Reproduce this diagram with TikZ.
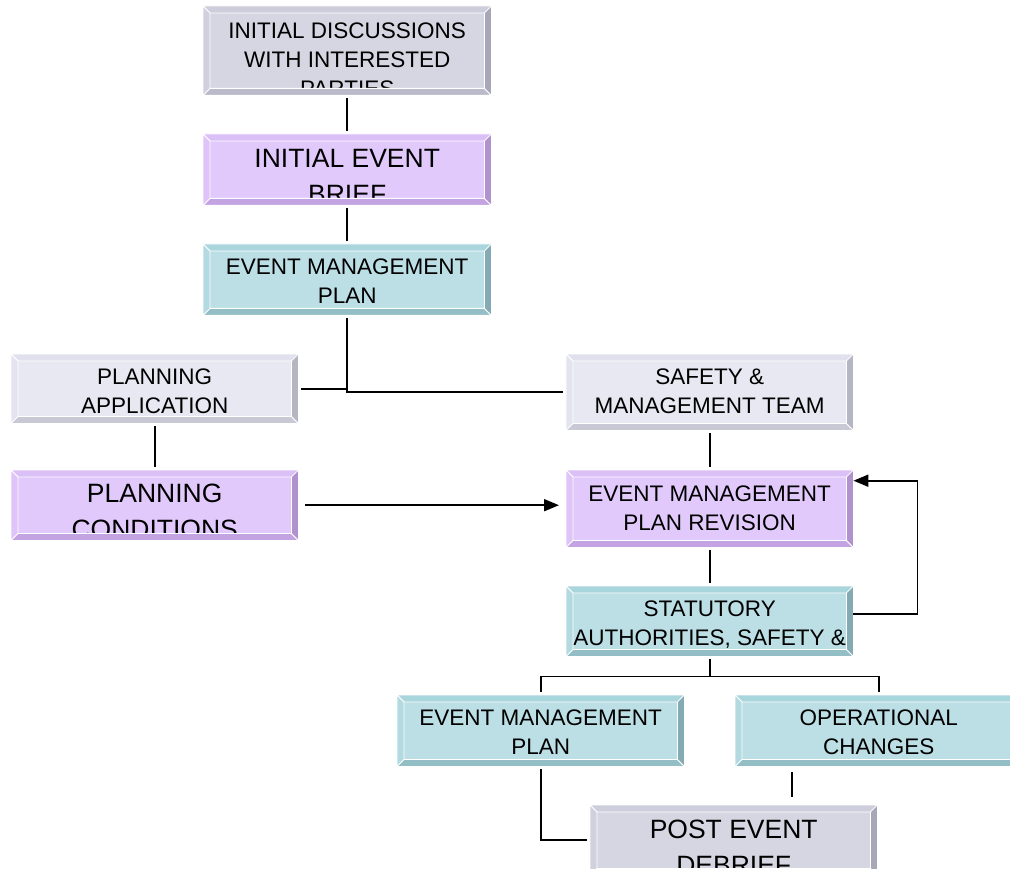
\documentclass[tikz,border=0pt]{standalone}
\usepackage{fontspec}
\setmainfont{Liberation Sans}
\usetikzlibrary{arrows.meta,calc}

\definecolor{ashface}{HTML}{D6D6E2}
\definecolor{ashtop}{HTML}{CDCDDB}
\definecolor{ashleft}{HTML}{D0D0DE}
\definecolor{ashright}{HTML}{A7A7B7}
\definecolor{ashbottom}{HTML}{BABACA}
\definecolor{mistface}{HTML}{E8E8F3}
\definecolor{misttop}{HTML}{E1E1ED}
\definecolor{mistleft}{HTML}{E4E4F0}
\definecolor{mistright}{HTML}{B6B6C3}
\definecolor{mistbottom}{HTML}{C9C9D6}
\definecolor{lilacface}{HTML}{E2C9FB}
\definecolor{lilactop}{HTML}{DBBFF7}
\definecolor{lilacleft}{HTML}{DFC4FA}
\definecolor{lilacright}{HTML}{B092CD}
\definecolor{lilacbottom}{HTML}{C4A3E3}
\definecolor{tealface}{HTML}{BBDFE5}
\definecolor{tealtop}{HTML}{A9D5DD}
\definecolor{tealleft}{HTML}{B3DAE1}
\definecolor{tealright}{HTML}{84ABB3}
\definecolor{tealbottom}{HTML}{93BEC6}

\newcommand{\txtS}{\fontsize{22.5}{29}\selectfont}
\newcommand{\txtL}{\fontsize{26.5}{36}\selectfont}

\tikzset{
  panelbox/.style={rectangle, inner sep=0pt, draw=none},
  boxtext/.style={align=center, inner sep=0pt, text=black},
  bevel/.style={draw=white, line width=0.8pt},
  link/.style={line width=1.8pt, shorten <=3pt, shorten >=3pt},
  tip/.style={-{Triangle[length=15pt,width=12pt]}}
}

% name, left, top, width, height, colour set, font, text drop, text
\newcommand{\panel}[9]{%
  \node[panelbox, fill=#6face, minimum width=#4pt, minimum height=#5pt, anchor=north west] (#1) at (#2,#3) {};
  \begin{scope}
    \clip ([xshift=7pt,yshift=7pt]#1.south west) rectangle ([xshift=-7pt,yshift=-7pt]#1.north east);
    \node[boxtext, font=#7, anchor=north] (#1-txt) at ([yshift=-#8pt]#1.north) {#9};
  \end{scope}
  \filldraw[bevel, fill=#6top] (#1.north west) -- (#1.north east) -- ([xshift=-7pt,yshift=-7pt]#1.north east) -- ([xshift=7pt,yshift=-7pt]#1.north west) -- cycle;
  \filldraw[bevel, fill=#6bottom] (#1.south west) -- (#1.south east) -- ([xshift=-7pt,yshift=7pt]#1.south east) -- ([xshift=7pt,yshift=7pt]#1.south west) -- cycle;
  \filldraw[bevel, fill=#6left] (#1.south west) -- (#1.north west) -- ([xshift=7pt,yshift=-7pt]#1.north west) -- ([xshift=7pt,yshift=7pt]#1.south west) -- cycle;
  \filldraw[bevel, fill=#6right] (#1.south east) -- (#1.north east) -- ([xshift=-7pt,yshift=-7pt]#1.north east) -- ([xshift=-7pt,yshift=7pt]#1.south east) -- cycle;
}

\begin{document}
\begin{tikzpicture}[x=1pt,y=-1pt]
\useasboundingbox (0,0) rectangle (1010,869);

\panel{discuss}{203}{6}{288}{89}{ash}{\txtS}{17}{INITIAL DISCUSSIONS\\WITH INTERESTED\\PARTIES}
\panel{brief}{203}{134}{288}{71}{lilac}{\txtL}{15}{INITIAL EVENT\\BRIEF}
\panel{emp}{203}{244}{288}{71}{teal}{\txtS}{15}{EVENT MANAGEMENT\\PLAN}
\panel{application}{11}{354}{287}{69}{mist}{\txtS}{15}{PLANNING\\APPLICATION}
\panel{conditions}{11}{470}{287}{70}{lilac}{\txtL}{14}{PLANNING\\CONDITIONS}
\panel{team}{566}{354}{287}{76}{mist}{\txtS}{15}{SAFETY \&\\MANAGEMENT TEAM}
\panel{revision}{566}{470}{287}{77}{lilac}{\txtS}{16}{EVENT MANAGEMENT\\PLAN REVISION}
\panel{statutory}{566}{586}{287}{70}{teal}{\txtS}{15}{STATUTORY\\AUTHORITIES, SAFETY \&}
\panel{finalplan}{397}{695}{287}{71}{teal}{\txtS}{15}{EVENT MANAGEMENT\\PLAN}
\panel{changes}{735}{695}{287}{71}{teal}{\txtS}{15}{OPERATIONAL\\CHANGES}
\panel{debrief}{590}{805}{287}{70}{ash}{\txtL}{15}{POST EVENT\\DEBRIEF}

\draw[link] (discuss) -- (brief);
\draw[link] (brief) -- (emp);
\draw[link] (emp.south) |- (team.west);
\draw[link, shorten >=0pt] (application.east) -- (application.east -| emp.south);
\draw[link] (application) -- (conditions);
\draw[link, tip, shorten <=7pt, shorten >=7pt] (conditions.east) -- (conditions.east -| revision.west);
\draw[link] (team) -- (revision);
\draw[link] (revision) -- (statutory);
\draw[link, tip, shorten <=0pt, shorten >=0pt] ([yshift=7pt]statutory.east) -- ++(64,0) |- ([yshift=28pt]revision.east);

\coordinate (fork) at ($(statutory.south)+(0,20)$);
\draw[link, shorten >=0pt] (statutory) -- (fork);
\draw[link, shorten <=0pt] (fork) -| (finalplan.north);
\draw[link, shorten <=0pt] (fork) -| (changes.north);
\draw[link] (finalplan.south) |- (debrief.west);
\draw[link, shorten <=6pt, shorten >=8pt] ([xshift=-87pt]changes.south) -- ([xshift=-87pt]changes.south |- debrief.north);
\end{tikzpicture}
\end{document}
